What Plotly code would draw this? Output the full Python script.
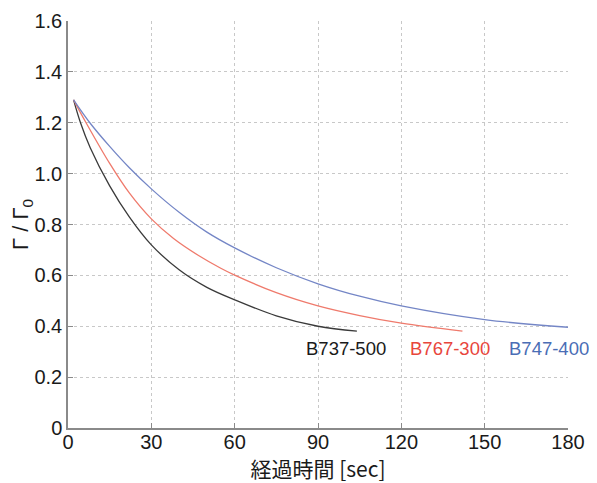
import plotly.graph_objects as go

# Data
t_b737 = [2, 4.5, 8, 15, 22, 30, 40, 50, 60, 75, 90, 104]
g_b737 = [1.29, 1.20, 1.102, 0.952, 0.831, 0.72, 0.622, 0.553, 0.504, 0.441, 0.40, 0.381]

t_b767 = [2, 6.5, 15, 22, 30, 38, 47, 55, 60, 75, 90, 105, 120, 142]
g_b767 = [1.29, 1.20, 1.04, 0.925, 0.822, 0.745, 0.678, 0.628, 0.601, 0.532, 0.48, 0.442, 0.412, 0.381]

t_b747 = [2, 8, 15, 22, 30, 40, 50, 60, 75, 90, 105, 120, 150, 180]
g_b747 = [1.29, 1.198, 1.107, 1.024, 0.94, 0.848, 0.77, 0.708, 0.63, 0.567, 0.518, 0.48, 0.426, 0.396]

series_names = ["B737-500", "B767-300", "B747-400"]
line_colors = ["#3a3a3a", "#ef7a6c", "#7486c6"]
text_colors = ["#1a1a1a", "#e8463c", "#4a6db5"]
label_x = [100.2, 137.6, 173.2]
label_y = [0.313, 0.313, 0.313]

x_ticks = [0, 30, 60, 90, 120, 150, 180]
y_ticks = [0, 0.2, 0.4, 0.6, 0.8, 1.0, 1.2, 1.4, 1.6]
y_tick_text = ["0", "0.2", "0.4", "0.6", "0.8", "1.0", "1.2", "1.4", "1.6"]

font_main = "Liberation Sans, Arial, sans-serif"

fig = go.Figure()
for t, g, name, c in zip([t_b737, t_b767, t_b747], [g_b737, g_b767, g_b747],
                         series_names, line_colors):
    fig.add_trace(go.Scatter(x=t, y=g, mode="lines", name=name,
                             line=dict(color=c, width=1.3, shape="spline", smoothing=1.0),
                             showlegend=False))

for name, x, y, c in zip(series_names, label_x, label_y, text_colors):
    fig.add_annotation(x=x, y=y, xref="x", yref="y", text=name, showarrow=False,
                       font=dict(family=font_main, size=18.5, color=c))

fig.update_layout(
    width=589, height=475,
    margin=dict(l=60, r=29, t=13, b=55),
    paper_bgcolor="white", plot_bgcolor="white",
    font=dict(family=font_main, size=20, color="#1a1a1a"),
    xaxis=dict(range=[0, 180], tickvals=x_ticks, showgrid=True, automargin=False,
               gridcolor="#c8c8c8", griddash="dot", gridwidth=1,
               showline=True, linecolor="#8a8a8a", linewidth=1.5,
               ticks="inside", ticklen=5, tickcolor="#8a8a8a",
               zeroline=False, tickfont=dict(size=20), ticklabelstandoff=-5,
               title=dict(text="経過時間 [sec]", standoff=7,
                          font=dict(family="Noto Sans CJK JP, sans-serif", size=21))),
    yaxis=dict(range=[0, 1.6], tickvals=y_ticks, ticktext=y_tick_text, showgrid=True,
               automargin=False,
               gridcolor="#c8c8c8", griddash="dot", gridwidth=1,
               showline=True, linecolor="#8a8a8a", linewidth=1.5,
               ticks="inside", ticklen=5, tickcolor="#8a8a8a",
               zeroline=False, tickfont=dict(size=20),
               title=dict(text="Γ / Γ<sub>0</sub>", standoff=6,
                          font=dict(family=font_main, size=22))),
)

fig.write_html("out.html")
